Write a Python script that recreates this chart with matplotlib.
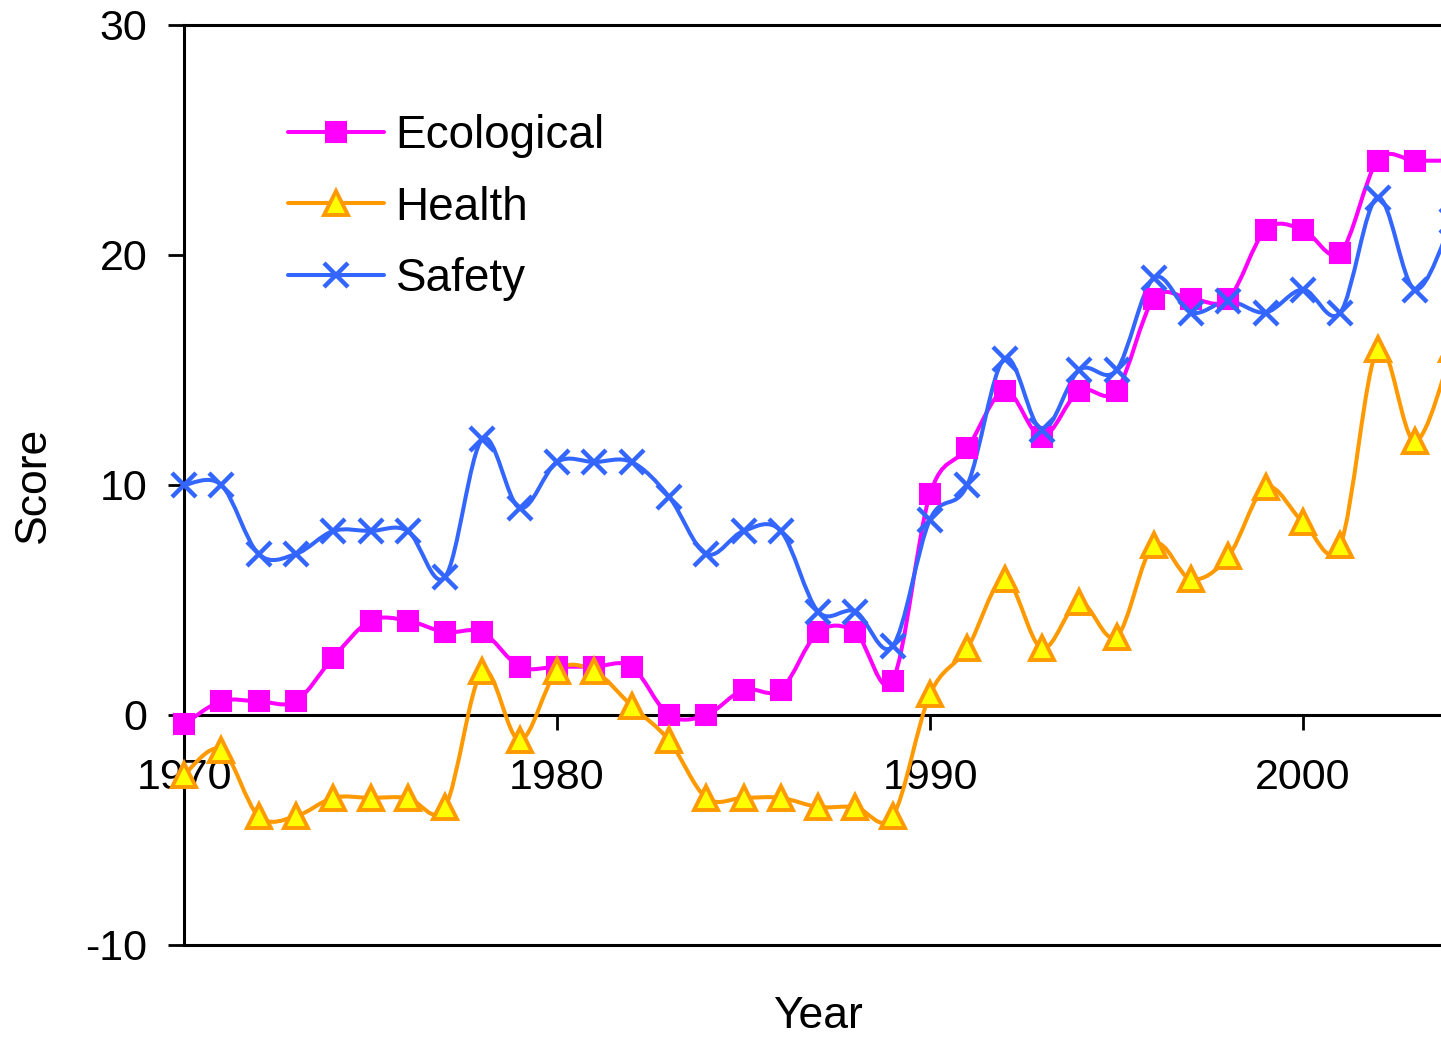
import matplotlib
matplotlib.use('Agg')
import matplotlib.pyplot as plt
from matplotlib.path import Path
from matplotlib.patches import PathPatch
from matplotlib.lines import Line2D
import numpy as np

plt.rcParams['font.family'] = ['Liberation Sans', 'DejaVu Sans']

years = list(range(1970, 2005))
ecological = [-0.4, 0.6, 0.6, 0.6, 2.5, 4.1, 4.1, 3.6, 3.6, 2.1,
              2.1, 2.1, 2.1, 0.0, 0.0, 1.1, 1.1, 3.6, 3.6, 1.5,
              9.6, 11.6, 14.1, 12.1, 14.1, 14.1, 18.1, 18.1, 18.1, 21.1,
              21.1, 20.1, 24.1, 24.1, 24.1]
health = [-2.6, -1.5, -4.4, -4.4, -3.6, -3.6, -3.6, -4.0, 1.9, -1.1,
          1.9, 1.9, 0.4, -1.1, -3.6, -3.6, -3.6, -4.0, -4.0, -4.4,
          0.9, 2.9, 5.9, 2.9, 4.9, 3.4, 7.4, 5.9, 6.9, 9.9,
          8.4, 7.4, 15.9, 11.9, 15.9]
safety = [10.0, 10.0, 7.0, 7.0, 8.0, 8.0, 8.0, 6.0, 12.0, 9.0,
          11.0, 11.0, 11.0, 9.5, 7.0, 8.0, 8.0, 4.5, 4.5, 3.0,
          8.5, 10.0, 15.5, 12.4, 15.0, 15.0, 19.0, 17.5, 18.0, 17.5,
          18.5, 17.5, 22.5, 18.5, 21.5]
series_names = ['Ecological', 'Health', 'Safety']
x_ticks = [1970, 1980, 1990, 2000]
y_ticks = [-10, 0, 10, 20, 30]

W, H = 1441, 1037
fig = plt.figure(figsize=(W / 100, H / 100), dpi=100)
ax = fig.add_axes([184 / W, 1 - 945 / H, (1441 - 184) / W, (945 - 25) / H])


def smooth_path(xs, ys):
    """Excel-like smoothed line: Catmull-Rom spline rendered as cubic Beziers."""
    p = np.column_stack([xs, ys]).astype(float)
    n = len(p)
    verts = [p[0]]
    codes = [Path.MOVETO]
    for i in range(n - 1):
        p0 = p[i - 1] if i > 0 else p[i]
        p1 = p[i]
        p2 = p[i + 1]
        p3 = p[i + 2] if i + 2 < n else p[i + 1]
        c1 = p1 + (p2 - p0) / 6.0
        c2 = p2 - (p3 - p1) / 6.0
        verts += [c1, c2, p2]
        codes += [Path.CURVE4, Path.CURVE4, Path.CURVE4]
    return Path(verts, codes)


styles = [
    dict(color='#FF00FF', marker='s', mfc='#FF00FF', mec='#FF00FF', ms=14.5, mew=1.5),
    dict(color='#FF9900', marker='^', mfc='#FFFF00', mec='#FF9900', ms=17, mew=2.8),
    dict(color='#3366FF', marker='x', mfc='#3366FF', mec='#3366FF', ms=17, mew=3.2),
]
lw = 2.9
handles = []
for vals, name, st in zip([ecological, health, safety], series_names, styles):
    patch = PathPatch(smooth_path(years, vals), fill=False, edgecolor=st['color'],
                      lw=lw, capstyle='round', joinstyle='round', zorder=3)
    ax.add_patch(patch)
    ax.plot(years, vals, linestyle='none', marker=st['marker'], ms=st['ms'],
            mfc=st['mfc'], mec=st['mec'], mew=st['mew'], clip_on=False, zorder=4)
    handles.append(Line2D([0], [0], color=st['color'], lw=lw, marker=st['marker'],
                          ms=st['ms'], mfc=st['mfc'], mec=st['mec'], mew=st['mew'],
                          solid_capstyle='round'))

ax.set_xlim(1970, 1970 + (1441 - 184) / 37.3)
ax.set_ylim(-10, 30)

for s in ['left', 'top', 'bottom']:
    ax.spines[s].set_linewidth(2.2)
    ax.spines[s].set_color('black')
ax.spines['right'].set_visible(False)
ax.spines['bottom'].set_position(('data', 0))
ax.axhline(-10, color='black', lw=2.2, clip_on=False, zorder=2)

ax.set_xticks(x_ticks)
ax.set_xticklabels([str(v) for v in x_ticks])
ax.set_yticks(y_ticks)
ax.set_yticklabels([str(v) for v in y_ticks])
ax.tick_params(axis='x', direction='out', length=11, width=2.0, pad=20, labelsize=31)
ax.tick_params(axis='y', direction='out', length=11.5, width=2.0, pad=15, labelsize=31)

fig.text(818 / W, 1 - 1017 / H, 'Year', ha='center', va='center', fontsize=32)
fig.text(33 / W, 1 - 485 / H, 'Score', ha='center', va='center', rotation=90, fontsize=32)

leg = ax.legend(handles, series_names, loc='upper left', frameon=False,
                bbox_to_anchor=((288 - 184) / (1441 - 184), (945 - 114) / (945 - 25)),
                fontsize=33, handlelength=2.1, handletextpad=0.25, labelspacing=0.6,
                borderaxespad=0, borderpad=0)

fig.savefig('out.png', dpi=100, facecolor='white')
